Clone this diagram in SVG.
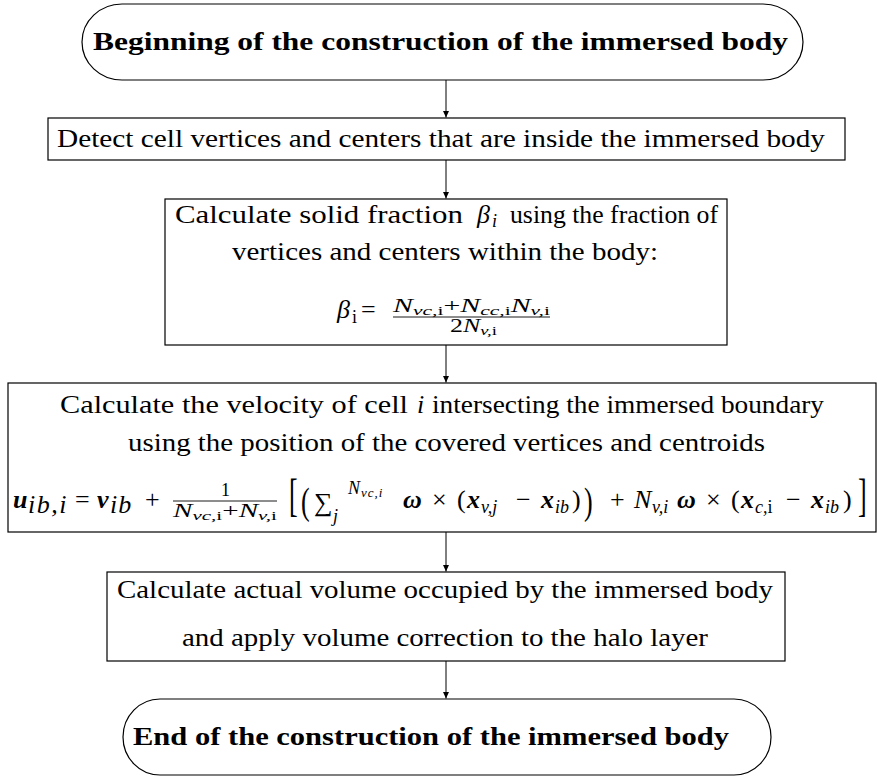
<svg xmlns="http://www.w3.org/2000/svg" width="877" height="776" viewBox="0 0 877 776">
<style>
.box{fill:#fff;stroke:#000;stroke-width:1.2}
.t{font-family:"Liberation Serif",serif;font-size:26px;fill:#000}
.b{font-weight:bold}
.i{font-style:italic}
.v{font-style:italic;font-weight:bold}
.s{font-size:18px}
.ss{font-size:13px}
.r{font-style:normal;font-weight:normal}
.c{stroke:#000;stroke-width:1;fill:none}
</style>
<defs>
<marker id="ah" markerWidth="8" markerHeight="8" refX="7" refY="4" orient="auto" markerUnits="userSpaceOnUse">
<path d="M0,0.8 L7,4 L0,7.2 Z" fill="#000"/>
</marker>
</defs>
<g id="connectors">
<line class="c" x1="446" y1="80" x2="446" y2="117.5" marker-end="url(#ah)"/>
<line class="c" x1="446" y1="160" x2="446" y2="198.5" marker-end="url(#ah)"/>
<line class="c" x1="446" y1="345" x2="446" y2="382.5" marker-end="url(#ah)"/>
<line class="c" x1="446" y1="532" x2="446" y2="571.5" marker-end="url(#ah)"/>
<line class="c" x1="446" y1="661" x2="446" y2="698.5" marker-end="url(#ah)"/>
</g>
<g id="start">
<path class="box" d="M122,4 H763 A40,38 0 0 1 763,80 H122 A40,38 0 0 1 122,4 Z"/>
<text class="t b" x="93" y="50" textLength="695" lengthAdjust="spacingAndGlyphs">Beginning of the construction of the immersed body</text>
</g>
<g id="detect">
<rect class="box" x="48" y="118" width="797" height="42"/>
<text class="t" x="57" y="147" textLength="768" lengthAdjust="spacingAndGlyphs">Detect cell vertices and centers that are inside the immersed body</text>
</g>
<g id="fraction">
<rect class="box" x="165" y="199" width="562" height="146"/>
<text class="t" x="175" y="223" textLength="288" lengthAdjust="spacingAndGlyphs">Calculate solid fraction</text>
<text class="t i" x="477" y="223">β</text>
<text class="t i s" x="492" y="227">i</text>
<text class="t" x="510" y="223" textLength="208" lengthAdjust="spacingAndGlyphs">using the fraction of</text>
<text class="t" x="232" y="260" textLength="426" lengthAdjust="spacingAndGlyphs">vertices and centers within the body:</text>
<text class="t i" x="337" y="318">β</text>
<text class="t s" x="352" y="323">i</text>
<text class="t" x="361" y="318">=</text>
<text class="t i s" x="393" y="312" textLength="157" lengthAdjust="spacingAndGlyphs">N<tspan class="ss" dy="3">vc,</tspan><tspan class="ss r">i</tspan><tspan class="r" dy="-3">+</tspan>N<tspan class="ss" dy="3">cc,</tspan><tspan class="ss r">i</tspan><tspan dy="-3">N</tspan><tspan class="ss" dy="3">v,</tspan><tspan class="ss r">i</tspan></text>
<line x1="393" y1="317" x2="550" y2="317" stroke="#000" stroke-width="0.9"/>
<text class="t s" x="450" y="332" textLength="47" lengthAdjust="spacingAndGlyphs">2<tspan class="i">N</tspan><tspan class="ss i" dy="3">v,</tspan><tspan class="ss">i</tspan></text>
</g>
<g id="velocity">
<rect class="box" x="8" y="383" width="868" height="149"/>
<text class="t" x="60" y="413" textLength="348" lengthAdjust="spacingAndGlyphs">Calculate the velocity of cell</text>
<text class="t i" x="417" y="413">i</text>
<text class="t" x="432" y="413" textLength="392" lengthAdjust="spacingAndGlyphs">intersecting the immersed boundary</text>
<text class="t" x="128" y="451" textLength="637" lengthAdjust="spacingAndGlyphs">using the position of the covered vertices and centroids</text>
<text class="t v" x="13" y="508">u</text>
<text class="t i" x="28" y="513" font-size="19" letter-spacing="1.5">ib,i</text>
<text class="t" x="75" y="508">=</text>
<text class="t v" x="97" y="508">v</text>
<text class="t i" x="110" y="513" font-size="19" letter-spacing="1">ib</text>
<text class="t" x="145" y="508">+</text>
<text class="t s" x="221" y="496">1</text>
<line x1="173" y1="501" x2="277" y2="501" stroke="#000" stroke-width="0.9"/>
<text class="t i s" x="173" y="517" textLength="104" lengthAdjust="spacingAndGlyphs">N<tspan class="ss" dy="3">vc,</tspan><tspan class="ss r">i</tspan><tspan class="r" dy="-3">+</tspan>N<tspan class="ss" dy="3">v,</tspan><tspan class="ss r">i</tspan></text>
<text class="t" transform="translate(289,511) scale(1,1.8)" font-size="30">[</text>
<text class="t" transform="translate(301,514) scale(1,1.45)" font-size="30">(</text>
<text class="t" x="314" y="511" font-size="28">∑</text>
<text class="t i s" x="333" y="522">j</text>
<text class="t i s" x="348" y="494" letter-spacing="1">N<tspan class="ss" dy="3">vc,i</tspan></text>
<text class="t v" x="403" y="508">ω</text>
<text class="t" x="432" y="508">×</text>
<text class="t" x="457" y="508">(</text>
<text class="t v" x="467" y="508">x</text>
<text class="t i s" x="481" y="513">v,j</text>
<text class="t" x="516" y="508">−</text>
<text class="t v" x="541" y="508">x</text>
<text class="t i s" x="555" y="513">ib</text>
<text class="t" x="572" y="508">)</text>
<text class="t" transform="translate(584,514) scale(1,1.45)" font-size="30">)</text>
<text class="t" x="610" y="508">+</text>
<text class="t i" x="634" y="508">N</text>
<text class="t i s" x="652" y="513">v,i</text>
<text class="t v" x="677" y="508">ω</text>
<text class="t" x="706" y="508">×</text>
<text class="t" x="731" y="508">(</text>
<text class="t v" x="741" y="508">x</text>
<text class="t i s" x="755" y="513">c,<tspan class="r">i</tspan></text>
<text class="t" x="786" y="508">−</text>
<text class="t v" x="811" y="508">x</text>
<text class="t i s" x="825" y="513">ib</text>
<text class="t" x="843" y="508">)</text>
<text class="t" transform="translate(858,511) scale(1,1.8)" font-size="30">]</text>
</g>
<g id="volume">
<rect class="box" x="107" y="572" width="678" height="89"/>
<text class="t" x="117" y="598" textLength="656" lengthAdjust="spacingAndGlyphs">Calculate actual volume occupied by the immersed body</text>
<text class="t" x="182" y="646" textLength="526" lengthAdjust="spacingAndGlyphs">and apply volume correction to the halo layer</text>
</g>
<g id="end">
<path class="box" d="M160,699 H734 A37,38 0 0 1 734,775 H160 A37,38 0 0 1 160,699 Z"/>
<text class="t b" x="133" y="745" textLength="596" lengthAdjust="spacingAndGlyphs">End of the construction of the immersed body</text>
</g>
</svg>
